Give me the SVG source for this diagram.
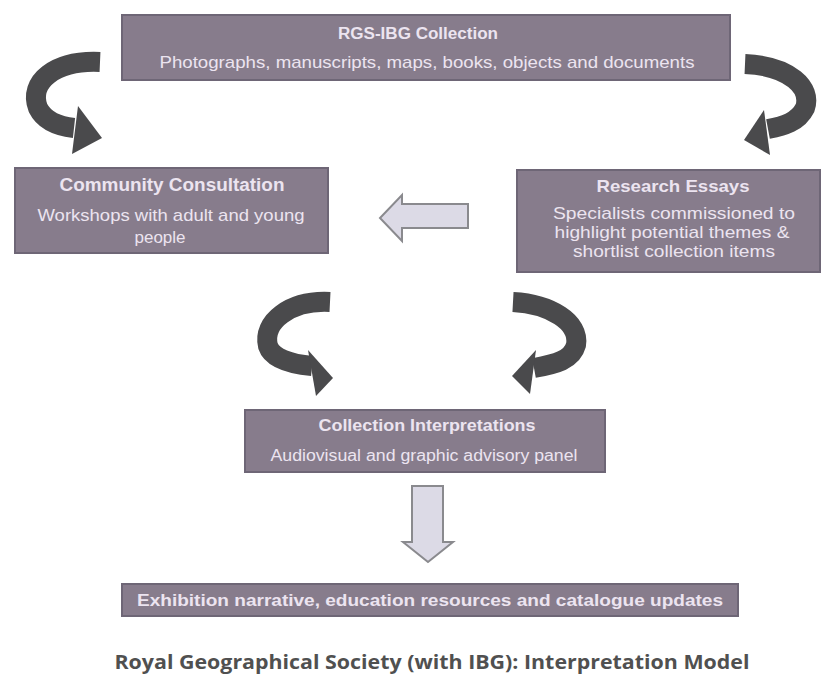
<svg xmlns="http://www.w3.org/2000/svg" width="823" height="675" viewBox="0 0 823 675">
<style>
.box{fill:#877c8c;stroke:#6e6676;stroke-width:2}
.t{font-family:"Liberation Sans",Arial,sans-serif;fill:#ece4f0;text-anchor:middle;dominant-baseline:central}
.b{font-weight:bold}
.band{fill:none;stroke:#4a4a4c;stroke-width:20}
.head{fill:#4a4a4c}
.light{fill:#dcdae6;stroke:#8a8a8e;stroke-width:2}
.cap{font-family:"Open Sans","Liberation Sans",sans-serif;font-weight:bold;fill:#505050;text-anchor:middle;dominant-baseline:central}
</style>
<rect width="823" height="675" fill="#ffffff"/>
<g id="connectors">
  <path class="band" d="M100,62 C55,60 28,82 38,108 C44,120 56,126 74,128"/>
  <polygon class="head" points="78,106 102,138 72,154"/>
  <path class="band" d="M745,64 C790,66 812,88 805,108 C798,122 784,126 768,129"/>
  <polygon class="head" points="764,110 744,140 770,155"/>
  <path class="band" d="M330,302 C290,300 262,322 268,346 C272,358 290,364 312,366"/>
  <polygon class="head" points="308,350 333,378 316,396"/>
  <path class="band" d="M513,302 C550,304 580,322 576,345 C572,360 556,364 534,368"/>
  <polygon class="head" points="536,350 512,376 530,394"/>
  <polygon class="light" points="468,204 402,204 402,195 380,218 402,241 402,228 468,228"/>
  <polygon class="light" points="412,486 443,486 443,542 453,542 428,562 403,542 412,542"/>
</g>
<g id="collection">
  <rect class="box" x="122" y="15" width="608" height="65"/>
  <text class="t b" x="418" y="33" font-size="16" textLength="160" lengthAdjust="spacingAndGlyphs">RGS-IBG Collection</text>
  <text class="t" x="427" y="62" font-size="17" textLength="535" lengthAdjust="spacingAndGlyphs">Photographs, manuscripts, maps, books, objects and documents</text>
</g>
<g id="community">
  <rect class="box" x="15" y="168" width="313" height="85"/>
  <text class="t b" x="172" y="185" font-size="18" textLength="225" lengthAdjust="spacingAndGlyphs">Community Consultation</text>
  <text class="t" x="171" y="215" font-size="17" textLength="267" lengthAdjust="spacingAndGlyphs">Workshops with adult and young</text>
  <text class="t" x="160" y="237" font-size="17">people</text>
</g>
<g id="research">
  <rect class="box" x="517" y="170" width="303" height="102"/>
  <text class="t b" x="673" y="186" font-size="17" textLength="153" lengthAdjust="spacingAndGlyphs">Research Essays</text>
  <text class="t" x="674" y="213" font-size="17" textLength="242" lengthAdjust="spacingAndGlyphs">Specialists commissioned to</text>
  <text class="t" x="672" y="232" font-size="17" textLength="235" lengthAdjust="spacingAndGlyphs">highlight potential themes &amp;</text>
  <text class="t" x="674" y="251" font-size="17" textLength="202" lengthAdjust="spacingAndGlyphs">shortlist collection items</text>
</g>
<g id="interpretations">
  <rect class="box" x="245" y="410" width="360" height="62"/>
  <text class="t b" x="427" y="425" font-size="16" textLength="217" lengthAdjust="spacingAndGlyphs">Collection Interpretations</text>
  <text class="t" x="424" y="455" font-size="16" textLength="307" lengthAdjust="spacingAndGlyphs">Audiovisual and graphic advisory panel</text>
</g>
<g id="outputs">
  <rect class="box" x="122" y="584" width="616" height="32"/>
  <text class="t b" x="430" y="600" font-size="16" textLength="586" lengthAdjust="spacingAndGlyphs">Exhibition narrative, education resources and catalogue updates</text>
</g>
<text class="cap" x="432" y="662" font-size="19" textLength="635" lengthAdjust="spacingAndGlyphs">Royal Geographical Society (with IBG): Interpretation Model</text>
</svg>
